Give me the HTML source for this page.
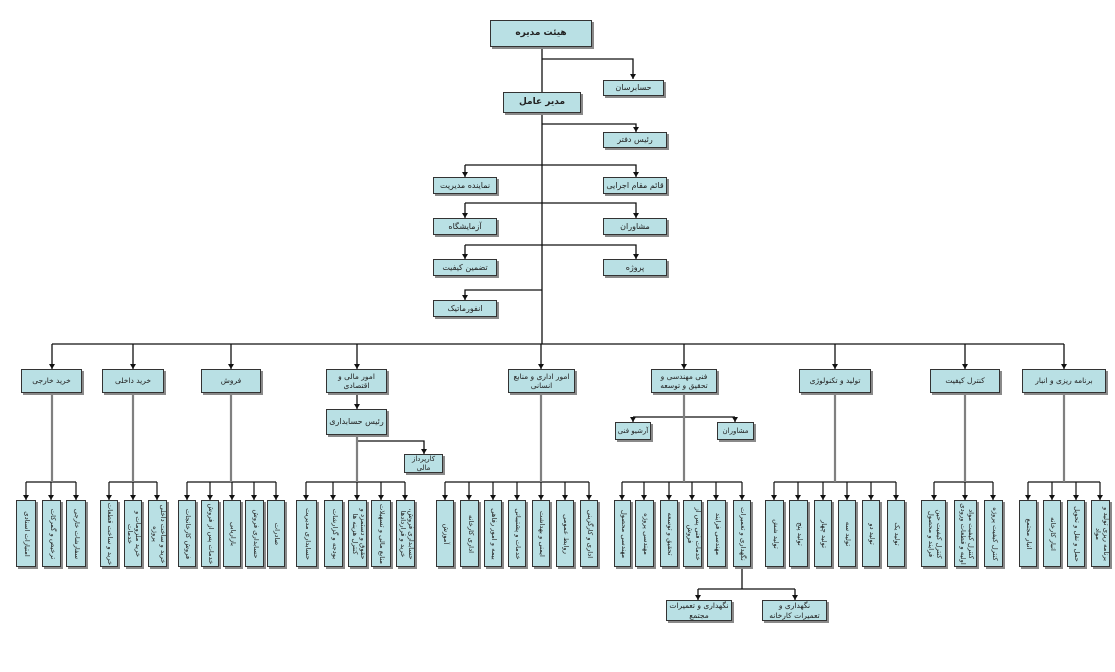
<!DOCTYPE html>
<html><head><meta charset="utf-8"><style>
body{margin:0;width:1115px;height:672px;background:#fff;position:relative;overflow:hidden}
.b{position:absolute;box-sizing:border-box;background:#b9e0e4;border:1px solid #333;box-shadow:2px 2px 0 #8a8a8a;font:8px "DejaVu Sans",sans-serif;display:flex;align-items:center;justify-content:center;text-align:center;direction:rtl;color:#222;line-height:1.25}
.s{font-size:7.5px;padding:0 2px}
.t{font-size:7px}
.v{position:absolute;box-sizing:border-box;background:#b9e0e4;border:1px solid #333;box-shadow:2px 2px 0 #8a8a8a;top:500px;height:67px;overflow:hidden}
.v span{position:absolute;left:50%;top:50%;width:64px;transform:translate(-50%,-50%) rotate(90deg);font:6.8px "DejaVu Sans",sans-serif;direction:rtl;text-align:center;line-height:1.15;color:#222;white-space:normal}
svg{position:absolute;left:0;top:0}
</style></head><body>
<svg width="1115" height="672">
<defs>
<marker id="d" viewBox="0 0 6 6" markerWidth="6" markerHeight="6" refX="3" refY="6" orient="0" markerUnits="userSpaceOnUse"><path d="M0,1 L6,1 L3,6 z" fill="#111"/></marker></defs>
<g stroke="#111" stroke-width="1.3" fill="none">
<path d="M542 47 V92"/><path d="M542 113 V344"/>
<path d="M542 59 H633 V79" marker-end="url(#d)"/>
<path d="M542 124 H636 V132" marker-end="url(#d)"/>
<path d="M465 165 H636 V177" marker-end="url(#d)"/>
<path d="M465 165 V177" marker-end="url(#d)"/>
<path d="M465 203 H636 V218" marker-end="url(#d)"/><path d="M465 203 V218" marker-end="url(#d)"/>
<path d="M465 245 H636 V259" marker-end="url(#d)"/><path d="M465 245 V259" marker-end="url(#d)"/>
<path d="M542 290 H465 V300" marker-end="url(#d)"/>
<path d="M52 344 H1064"/>
<path d="M52 344 V369" marker-end="url(#d)"/><path d="M133 344 V369" marker-end="url(#d)"/><path d="M231 344 V369" marker-end="url(#d)"/><path d="M357 344 V369" marker-end="url(#d)"/><path d="M541 344 V369" marker-end="url(#d)"/><path d="M684 344 V369" marker-end="url(#d)"/><path d="M835 344 V369" marker-end="url(#d)"/><path d="M965 344 V369" marker-end="url(#d)"/><path d="M1064 344 V369" marker-end="url(#d)"/>
<path d="M357 393 V409" marker-end="url(#d)"/>
<path d="M357 441 H424 V454" marker-end="url(#d)"/>
<path d="M633 417 H735"/><path d="M633 417 V422" marker-end="url(#d)"/><path d="M735 417 V422" marker-end="url(#d)"/>
<path d="M26 482 H76"/><path d="M109 482 H157"/><path d="M187 482 H276"/><path d="M306 482 H405"/><path d="M445 482 H589"/><path d="M622 482 H742"/><path d="M774 482 H896"/><path d="M934 482 H993"/><path d="M1028 482 H1100"/>
<path d="M742 567 V589"/><path d="M698 589 H795"/><path d="M698 589 V600" marker-end="url(#d)"/><path d="M795 589 V600" marker-end="url(#d)"/>
</g>
<g stroke="#111" stroke-width="1.2">
<path d="M26 482V500M51 482V500M76 482V500M109 482V500M133 482V500M157 482V500M187 482V500M210 482V500M232 482V500M254 482V500M276 482V500M306 482V500M333 482V500M357 482V500M381 482V500M405 482V500M445 482V500M469 482V500M493 482V500M517 482V500M541 482V500M565 482V500M589 482V500M622 482V500M644 482V500M669 482V500M692 482V500M716 482V500M742 482V500M774 482V500M798 482V500M823 482V500M847 482V500M871 482V500M896 482V500M934 482V500M965 482V500M993 482V500M1028 482V500M1052 482V500M1076 482V500M1100 482V500"/>
</g>
<g fill="#111">
<path d="M23 495h6l-3 5zM48 495h6l-3 5zM73 495h6l-3 5zM106 495h6l-3 5zM130 495h6l-3 5zM154 495h6l-3 5zM184 495h6l-3 5zM207 495h6l-3 5zM229 495h6l-3 5zM251 495h6l-3 5zM273 495h6l-3 5zM303 495h6l-3 5zM330 495h6l-3 5zM354 495h6l-3 5zM378 495h6l-3 5zM402 495h6l-3 5zM442 495h6l-3 5zM466 495h6l-3 5zM490 495h6l-3 5zM514 495h6l-3 5zM538 495h6l-3 5zM562 495h6l-3 5zM586 495h6l-3 5zM619 495h6l-3 5zM641 495h6l-3 5zM666 495h6l-3 5zM689 495h6l-3 5zM713 495h6l-3 5zM739 495h6l-3 5zM771 495h6l-3 5zM795 495h6l-3 5zM820 495h6l-3 5zM844 495h6l-3 5zM868 495h6l-3 5zM893 495h6l-3 5zM931 495h6l-3 5zM962 495h6l-3 5zM990 495h6l-3 5zM1025 495h6l-3 5zM1049 495h6l-3 5zM1073 495h6l-3 5zM1097 495h6l-3 5z"/>
</g>
<g stroke="#808080" stroke-width="2.2">
<path d="M52 393V482M133 393V482M231 393V482M357 435V482M541 393V482M684 393V482M835 393V482M965 393V482M1064 393V482"/>
</g>
</svg>

<div class="b" style="left:490px;top:20px;width:102px;height:27px;font-weight:bold;font-size:9px">هیئت مدیره</div>
<div class="b" style="left:603px;top:80px;width:61px;height:16px">حسابرسان</div>
<div class="b" style="left:503px;top:92px;width:78px;height:21px;font-weight:bold;font-size:9px">مدیر عامل</div>
<div class="b" style="left:603px;top:132px;width:64px;height:16px">رئیس دفتر</div>
<div class="b" style="left:433px;top:177px;width:64px;height:17px">نماینده مدیریت</div>
<div class="b" style="left:603px;top:177px;width:64px;height:17px">قائم مقام اجرایی</div>
<div class="b" style="left:433px;top:218px;width:64px;height:17px">آزمایشگاه</div>
<div class="b" style="left:603px;top:218px;width:64px;height:17px">مشاوران</div>
<div class="b" style="left:433px;top:259px;width:64px;height:17px">تضمین کیفیت</div>
<div class="b" style="left:603px;top:259px;width:64px;height:17px">پروژه</div>
<div class="b" style="left:433px;top:300px;width:64px;height:17px">انفورماتیک</div>

<div class="b s" style="left:21px;top:369px;width:61px;height:24px">خرید خارجی</div>
<div class="b s" style="left:102px;top:369px;width:62px;height:24px">خرید داخلی</div>
<div class="b s" style="left:201px;top:369px;width:60px;height:24px">فروش</div>
<div class="b s" style="left:326px;top:369px;width:61px;height:24px">امور مالی و اقتصادی</div>
<div class="b s" style="left:508px;top:369px;width:67px;height:24px">امور اداری و منابع انسانی</div>
<div class="b s" style="left:651px;top:369px;width:66px;height:24px">فنی مهندسی و تحقیق و توسعه</div>
<div class="b s" style="left:799px;top:369px;width:72px;height:24px">تولید و تکنولوژی</div>
<div class="b s" style="left:930px;top:369px;width:70px;height:24px">کنترل کیفیت</div>
<div class="b s" style="left:1022px;top:369px;width:84px;height:24px">برنامه ریزی و انبار</div>

<div class="b" style="left:326px;top:409px;width:61px;height:26px">رئیس حسابداری</div>
<div class="b t" style="left:404px;top:454px;width:39px;height:19px">کارپرداز مالی</div>
<div class="b t" style="left:615px;top:422px;width:36px;height:18px">آرشیو فنی</div>
<div class="b t" style="left:717px;top:422px;width:37px;height:18px">مشاوران</div>
<div class="b s" style="left:666px;top:600px;width:66px;height:21px">نگهداری و تعمیرات مجتمع</div>
<div class="b s" style="left:762px;top:600px;width:65px;height:21px">نگهداری و تعمیرات کارخانه</div>

<div class="v" style="left:16px;width:20px"><span>امتیازات اسنادی</span></div>
<div class="v" style="left:42px;width:19px"><span>ترخیص و گمرکات</span></div>
<div class="v" style="left:66px;width:20px"><span>سفارشات خارجی</span></div>
<div class="v" style="left:100px;width:18px"><span>خرید و ساخت قطعات</span></div>
<div class="v" style="left:124px;width:18px"><span>خرید ملزومات و خدمات</span></div>
<div class="v" style="left:148px;width:19px"><span>خرید و ساخت داخلی پروژه</span></div>
<div class="v" style="left:178px;width:18px"><span>فروش کارخانجات</span></div>
<div class="v" style="left:201px;width:18px"><span>خدمات پس از فروش</span></div>
<div class="v" style="left:223px;width:18px"><span>بازاریابی</span></div>
<div class="v" style="left:245px;width:19px"><span>حسابداری فروش</span></div>
<div class="v" style="left:267px;width:18px"><span>صادرات</span></div>
<div class="v" style="left:296px;width:21px"><span>حسابداری مدیریت</span></div>
<div class="v" style="left:324px;width:19px"><span>بودجه و گزارشات</span></div>
<div class="v" style="left:348px;width:19px"><span>حقوق و دستمزد و کنترل هزینه ها</span></div>
<div class="v" style="left:371px;width:20px"><span>منابع مالی و تسهیلات</span></div>
<div class="v" style="left:396px;width:19px"><span>حسابداری فروش، خرید و قراردادها</span></div>
<div class="v" style="left:436px;width:18px"><span>آموزش</span></div>
<div class="v" style="left:460px;width:19px"><span>اداری کارخانه</span></div>
<div class="v" style="left:484px;width:18px"><span>بیمه و امور رفاهی</span></div>
<div class="v" style="left:508px;width:18px"><span>خدمات و پشتیبانی</span></div>
<div class="v" style="left:532px;width:18px"><span>ایمنی و بهداشت</span></div>
<div class="v" style="left:556px;width:18px"><span>روابط عمومی</span></div>
<div class="v" style="left:580px;width:18px"><span>اداری و کارگزینی</span></div>
<div class="v" style="left:614px;width:17px"><span>مهندسی محصول</span></div>
<div class="v" style="left:635px;width:19px"><span>مهندسی پروژه</span></div>
<div class="v" style="left:660px;width:18px"><span>تحقیق و توسعه</span></div>
<div class="v" style="left:683px;width:19px"><span>خدمات فنی پس از فروش</span></div>
<div class="v" style="left:707px;width:19px"><span>مهندسی فرایند</span></div>
<div class="v" style="left:733px;width:18px"><span>نگهداری و تعمیرات</span></div>
<div class="v" style="left:765px;width:19px"><span>تولید شش</span></div>
<div class="v" style="left:789px;width:19px"><span>تولید پنج</span></div>
<div class="v" style="left:814px;width:18px"><span>تولید چهار</span></div>
<div class="v" style="left:838px;width:18px"><span>تولید سه</span></div>
<div class="v" style="left:862px;width:18px"><span>تولید دو</span></div>
<div class="v" style="left:887px;width:18px"><span>تولید یک</span></div>
<div class="v" style="left:921px;width:25px"><span>کنترل کیفیت حین فرایند و محصول</span></div>
<div class="v" style="left:954px;width:23px"><span>کنترل کیفیت مواد اولیه و قطعات ورودی</span></div>
<div class="v" style="left:984px;width:19px"><span>کنترل کیفیت پروژه</span></div>
<div class="v" style="left:1019px;width:18px"><span>انبار مجتمع</span></div>
<div class="v" style="left:1043px;width:18px"><span>انبار کارخانه</span></div>
<div class="v" style="left:1067px;width:18px"><span>حمل و نقل و تحویل</span></div>
<div class="v" style="left:1091px;width:19px"><span>برنامه ریزی تولید و مواد</span></div>
</body></html>
